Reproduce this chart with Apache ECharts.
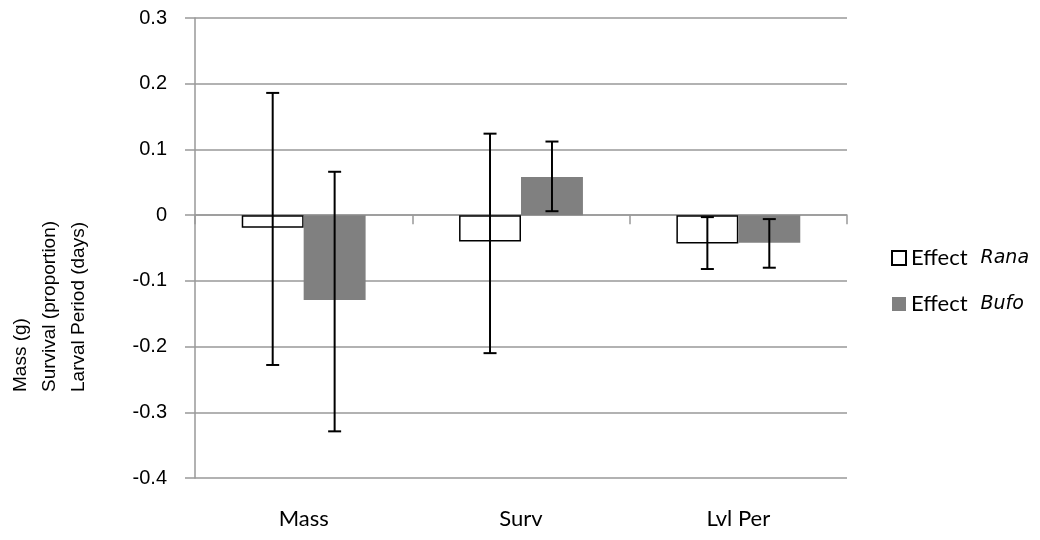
<!DOCTYPE html>
<html>
<head>
<meta charset="utf-8">
<script src="https://cdn.jsdelivr.net/npm/echarts@6/dist/echarts.min.js"></script>
<style>
html,body{margin:0;padding:0;background:#fff;}
#chart{width:1040px;height:540px;}
</style>
</head>
<body>
<div id="chart"></div>
<script>
var categories = ['Mass', 'Surv', 'Lvl Per'];
var seriesNames = ['Effect Rana', 'Effect Bufo'];
var ranaValues = [-0.019, -0.040, -0.043];
var ranaLow = [-0.228, -0.210, -0.082];
var ranaHigh = [0.186, 0.124, -0.003];
var bufoValues = [-0.129, 0.058, -0.042];
var bufoLow = [-0.329, 0.006, -0.080];
var bufoHigh = [0.066, 0.112, -0.006];
var yTicks = [0.3, 0.2, 0.1, 0, -0.1, -0.2, -0.3, -0.4];
var yTitleLines = ['Mass (g)', 'Survival (proportion)', 'Larval Period (days)'];

var chart = echarts.init(document.getElementById('chart'), null, {renderer: 'canvas'});
var BAR_GAP_FRAC = 0.43;

function errData(low, high) {
  return categories.map(function (c, i) { return [i, low[i], high[i]]; });
}
function makeErr(low, high, side) {
  return {
    type: 'custom',
    xAxisIndex: 0,
    yAxisIndex: 0,
    z: 5,
    data: errData(low, high),
    renderItem: function (params, api) {
      var ci = api.value(0);
      var pLow = api.coord([ci, api.value(1)]);
      var pHigh = api.coord([ci, api.value(2)]);
      var catW = api.size([1, 0])[0];
      var barW = catW * (1 - BAR_GAP_FRAC) / 2;
      var x = pLow[0] + side * barW / 2;
      var cap = 6.5;
      var st = {stroke: '#000', lineWidth: 2, fill: null};
      return {
        type: 'group',
        children: [
          {type: 'line', shape: {x1: x, y1: pHigh[1], x2: x, y2: pLow[1]}, style: st},
          {type: 'line', shape: {x1: x - cap, y1: pHigh[1], x2: x + cap, y2: pHigh[1]}, style: st},
          {type: 'line', shape: {x1: x - cap, y1: pLow[1], x2: x + cap, y2: pLow[1]}, style: st}
        ]
      };
    }
  };
}

var option = {
  animation: false,
  backgroundColor: '#fff',
  grid: {left: 195, right: 193, top: 18, bottom: 62, containLabel: false},
  legend: {
    orient: 'vertical',
    left: 886,
    top: 242,
    itemWidth: 14,
    itemHeight: 14,
    itemGap: 24,
    icon: 'rect',
    data: seriesNames,
    formatter: function (name) {
      var parts = name.split(' ');
      return '{a|' + parts[0] + '}{b|' + parts[1] + '}';
    },
    textStyle: {
      padding: [0, 0, 0, 0],
      rich: {
        a: {fontFamily: 'Lato', fontSize: 22, color: '#000', lineHeight: 24, padding: [0, 13, 0, 0]},
        b: {fontFamily: 'DejaVu Sans', fontStyle: 'italic', fontSize: 19, color: '#000', lineHeight: 24}
      }
    }
  },
  xAxis: [
    {
      type: 'category',
      data: categories,
      position: 'bottom',
      axisLine: {show: false, onZero: false},
      axisTick: {show: false},
      axisLabel: {margin: 30, fontFamily: 'Lato', fontSize: 22, color: '#000'}
    },
    {
      type: 'category',
      data: categories,
      position: 'bottom',
      axisLine: {show: true, onZero: true, lineStyle: {color: '#999', width: 1.5}},
      axisTick: {show: true, length: 9, alignWithLabel: false, lineStyle: {color: '#999', width: 1.5}},
      axisLabel: {show: false},
      splitLine: {show: false}
    }
  ],
  yAxis: {
    type: 'value',
    min: -0.4,
    max: 0.3,
    interval: 0.1,
    axisLine: {show: true, lineStyle: {color: '#999', width: 1.5}},
    axisTick: {show: true, length: 10, lineStyle: {color: '#999', width: 1.5}},
    axisLabel: {
      margin: 28,
      fontFamily: 'Liberation Sans',
      fontSize: 20,
      color: '#000',
      formatter: function (v) {
        var r = Math.round(v * 10) / 10;
        for (var i = 0; i < yTicks.length; i++) {
          if (Math.abs(yTicks[i] - r) < 1e-9) return String(yTicks[i]);
        }
        return '';
      }
    },
    splitLine: {show: true, lineStyle: {color: '#999', width: 1.5}}
  },
  series: [
    {
      name: seriesNames[0],
      type: 'bar',
      data: ranaValues,
      barGap: '0%',
      barCategoryGap: '43%',
      itemStyle: {color: '#fff', borderColor: '#000', borderWidth: 1.5}
    },
    {
      name: seriesNames[1],
      type: 'bar',
      data: bufoValues,
      barGap: '0%',
      barCategoryGap: '43%',
      itemStyle: {color: '#808080'}
    },
    makeErr(ranaLow, ranaHigh, -1),
    makeErr(bufoLow, bufoHigh, 1)
  ],
  graphic: [
    {
      type: 'text',
      x: 6,
      y: 392,
      rotation: Math.PI / 2,
      style: {
        text: yTitleLines.join('\n'),
        font: '19px "Liberation Sans"',
        lineHeight: 29,
        fill: '#000',
        align: 'left',
        verticalAlign: 'top'
      }
    }
  ]
};
chart.setOption(option);
</script>
</body>
</html>
